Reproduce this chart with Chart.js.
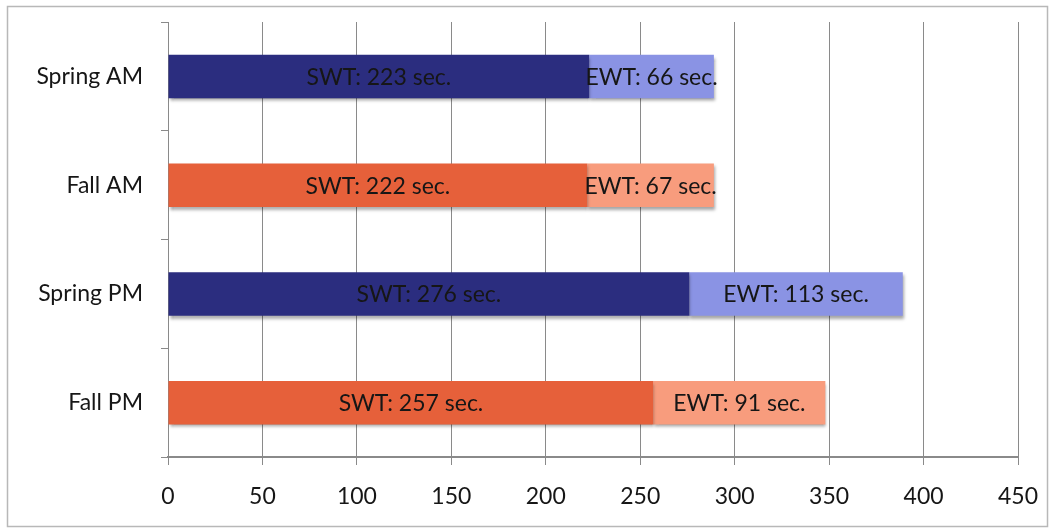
<!DOCTYPE html>
<html>
<head>
<meta charset="utf-8">
<script src="https://cdn.jsdelivr.net/npm/chart.js@4/dist/chart.umd.min.js"></script>
<style>
  html, body { margin: 0; padding: 0; background: #fff; }
  #wrap { width: 1051px; height: 529px; position: relative; }
</style>
</head>
<body>
<div id="wrap"><canvas id="c" width="1051" height="529"></canvas></div>
<script>
// Waiting time by season and period (seconds)
const categories = ['Spring AM', 'Fall AM', 'Spring PM', 'Fall PM'];
const swtValues = [223, 222, 276, 257];
const ewtValues = [66, 67, 113, 91];
const xTicks = [0, 50, 100, 150, 200, 250, 300, 350, 400, 450];

const darkColors = ['#2b2d7f', '#e6603a', '#2b2d7f', '#e6603a'];
const lightColors = ['#8a93e4', '#f89c7d', '#8a93e4', '#f89c7d'];
const FONT = 'Lato, "Open Sans", sans-serif';

// Frame around the whole figure
const framePlugin = {
  id: 'frame',
  beforeDraw(chart) {
    const ctx = chart.ctx;
    ctx.save();
    ctx.fillStyle = '#fff';
    ctx.fillRect(0, 0, chart.width, chart.height);
    ctx.strokeStyle = '#b8b8b8';
    ctx.lineWidth = 1.5;
    ctx.strokeRect(7.5, 6.5, chart.width - 11, chart.height - 9);
    ctx.restore();
  }
};

// Soft drop shadow under the bars
const shadowPlugin = {
  id: 'barShadow',
  beforeDatasetDraw(chart) {
    const ctx = chart.ctx;
    ctx.save();
    ctx.shadowColor = 'rgba(0,0,0,0.35)';
    ctx.shadowOffsetX = 1;
    ctx.shadowOffsetY = 3;
    ctx.shadowBlur = 3;
  },
  afterDatasetDraw(chart) {
    chart.ctx.restore();
  }
};

// Text label centred in each bar segment
const valueLabelPlugin = {
  id: 'valueLabels',
  afterDatasetsDraw(chart) {
    const ctx = chart.ctx;
    ctx.save();
    ctx.font = '23px ' + FONT;
    ctx.fillStyle = '#161616';
    ctx.textAlign = 'center';
    ctx.textBaseline = 'middle';
    chart.data.datasets.forEach((ds, di) => {
      const meta = chart.getDatasetMeta(di);
      meta.data.forEach((bar, i) => {
        const cx = (bar.x + bar.base) / 2;
        ctx.fillText(ds.label + ': ' + ds.data[i] + ' sec.', cx, bar.y + 1);
      });
    });
    ctx.restore();
  }
};

new Chart(document.getElementById('c'), {
  type: 'bar',
  data: {
    labels: categories,
    datasets: [
      { label: 'SWT', data: swtValues, backgroundColor: darkColors, borderWidth: 0 },
      { label: 'EWT', data: ewtValues, backgroundColor: lightColors, borderWidth: 0 }
    ]
  },
  options: {
    indexAxis: 'y',
    responsive: false,
    animation: false,
    devicePixelRatio: 1,
    datasets: { bar: { categoryPercentage: 1.0, barPercentage: 0.4 } },
    layout: { padding: { left: 0, right: 33, top: 22, bottom: 0 } },
    plugins: { legend: { display: false }, tooltip: { enabled: false } },
    scales: {
      x: {
        type: 'linear',
        stacked: true,
        min: 0,
        max: 450,
        afterBuildTicks(scale) { scale.ticks = xTicks.map(v => ({ value: v })); },
        afterFit(scale) {
          scale.height = 72;
          scale.paddingLeft = 0;
          scale.paddingRight = 0;
        },
        grid: { color: '#8a8a8a', lineWidth: 1, tickLength: 8, drawTicks: true },
        border: { color: '#8a8a8a', width: 2 },
        ticks: { font: { family: FONT, size: 23 }, color: '#161616', padding: 18, maxRotation: 0 }
      },
      y: {
        type: 'category',
        stacked: true,
        afterFit(scale) {
          scale.width = 168;
          scale.paddingTop = 0;
          scale.paddingBottom = 0;
        },
        grid: { offset: true, drawOnChartArea: false, color: '#8a8a8a', tickLength: 7 },
        border: { color: '#8a8a8a', width: 1 },
        ticks: { font: { family: FONT, size: 23 }, color: '#161616', padding: 18 }
      }
    }
  },
  plugins: [framePlugin, shadowPlugin, valueLabelPlugin]
});
</script>
</body>
</html>
